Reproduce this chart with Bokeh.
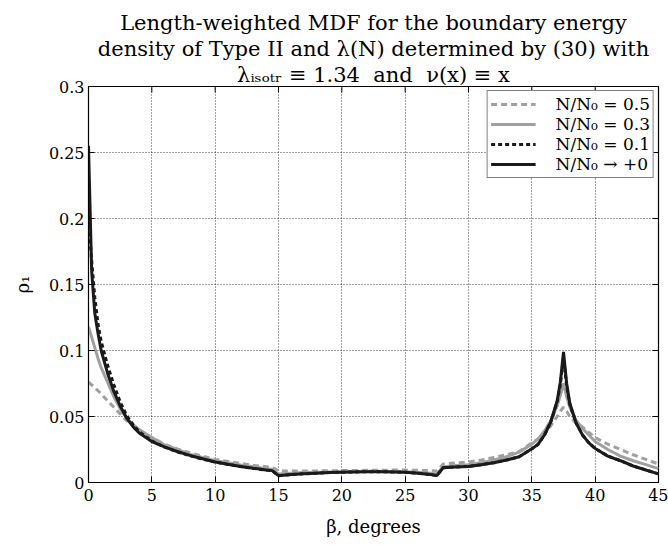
from bokeh.plotting import figure
from bokeh.models import Legend, LegendItem, Title, FixedTicker, Range1d
from bokeh.embed import file_html
from bokeh.resources import INLINE

# beta, degrees
beta = [0, 0.25, 0.5, 0.75, 1, 1.5, 2, 2.5, 3, 3.5, 4, 5, 6, 7, 8, 9, 10, 11, 12, 13, 14, 14.5,
        15, 16, 17, 18, 19, 20, 21, 22, 23, 24, 25, 26, 27, 27.5, 28, 29, 30, 31, 32, 33,
        34, 35, 35.5, 36, 36.5, 37, 37.25, 37.5, 37.75, 38, 38.5, 39, 39.5, 40, 41, 42,
        43, 44, 45]

rho_05 = [0.076, 0.074, 0.072, 0.0695, 0.067, 0.062, 0.057, 0.052, 0.047, 0.0435, 0.040, 0.034,
          0.029, 0.0255, 0.0225, 0.020, 0.0175, 0.016, 0.0145, 0.013, 0.012, 0.0115,
          0.0088, 0.0088, 0.0088, 0.0088, 0.0089, 0.009, 0.0091, 0.0092, 0.0093, 0.0094,
          0.0094, 0.0092, 0.009, 0.0088, 0.014, 0.0148, 0.0155, 0.017, 0.019, 0.021,
          0.0235, 0.030, 0.033, 0.037, 0.043, 0.050, 0.054, 0.057, 0.054, 0.050, 0.045,
          0.042, 0.038, 0.034, 0.029, 0.025, 0.021, 0.0175, 0.014]

rho_03 = [0.118, 0.110, 0.102, 0.094, 0.087, 0.076, 0.065, 0.056, 0.049, 0.044, 0.040, 0.034,
          0.0285, 0.025, 0.0215, 0.019, 0.0165, 0.015, 0.0133, 0.012, 0.0105, 0.010,
          0.0065, 0.007, 0.0075, 0.0078, 0.008, 0.0082, 0.0084, 0.0085, 0.0085, 0.0084,
          0.0082, 0.0078, 0.007, 0.0065, 0.012, 0.0128, 0.0135, 0.015, 0.017, 0.0195,
          0.023, 0.029, 0.033, 0.039, 0.047, 0.058, 0.066, 0.075, 0.065, 0.057, 0.047,
          0.041, 0.036, 0.031, 0.025, 0.020, 0.0165, 0.0135, 0.0105]

rho_01 = [0.200, 0.168, 0.140, 0.120, 0.107, 0.089, 0.074, 0.061, 0.051, 0.044, 0.0385, 0.0315,
          0.0268, 0.0232, 0.0203, 0.0178, 0.0154, 0.0137, 0.0121, 0.0107, 0.0094, 0.0089,
          0.0052, 0.006, 0.0066, 0.0071, 0.0075, 0.0078, 0.008, 0.0082, 0.0082, 0.008,
          0.0077, 0.007, 0.006, 0.0052, 0.0112, 0.0118, 0.0122, 0.0135, 0.015, 0.017,
          0.0195, 0.0255, 0.029, 0.036, 0.046, 0.061, 0.074, 0.095, 0.073, 0.059, 0.045,
          0.036, 0.030, 0.0258, 0.020, 0.0165, 0.0125, 0.0095, 0.0065]

rho_0 = [0.255, 0.160, 0.128, 0.113, 0.100, 0.083, 0.069, 0.058, 0.049, 0.0425, 0.0375, 0.031,
         0.027, 0.0235, 0.0205, 0.018, 0.0155, 0.0138, 0.0122, 0.0108, 0.0095, 0.009,
         0.0052, 0.006, 0.0066, 0.0071, 0.0075, 0.0078, 0.008, 0.0082, 0.0082, 0.008,
         0.0077, 0.007, 0.006, 0.0052, 0.0112, 0.0118, 0.0122, 0.0135, 0.015, 0.017,
         0.0195, 0.0255, 0.029, 0.036, 0.046, 0.062, 0.076, 0.099, 0.075, 0.060, 0.045,
         0.036, 0.030, 0.0258, 0.020, 0.0165, 0.0125, 0.0095, 0.0065]

x_ticks = [0, 5, 10, 15, 20, 25, 30, 35, 40, 45]
y_ticks = [0, 0.05, 0.1, 0.15, 0.2, 0.25, 0.3]
y_tick_labels = {0: "0", 0.05: "0.05", 0.1: "0.1", 0.15: "0.15", 0.2: "0.2", 0.25: "0.25", 0.3: "0.3"}

NB = "\u00a0"
title_lines = ["Length-weighted MDF for the boundary energy",
               "density of Type II and λ(N) determined by (30) with",
               "λᵢₛₒₜᵣ ≡ 1.34" + NB + NB + "and" + NB + NB + "ν(x) ≡ x"]

FONT = "DejaVu Serif"
GRAY = "#a0a0a0"
BLACK = "#1a1a1a"
X_MIN, X_MAX, Y_MIN, Y_MAX = 0, 45, 0, 0.3

p = figure(width=668, height=545, output_backend="svg", toolbar_location=None,
           x_range=Range1d(X_MIN, X_MAX), y_range=Range1d(Y_MIN, Y_MAX),
           min_border_left=88, min_border_right=10, min_border_top=86, min_border_bottom=63,
           background_fill_color="white", border_fill_color="white")
p.outline_line_color = "black"
p.outline_line_width = 1.2

for ax in (p.xaxis[0], p.yaxis[0]):
    ax.major_tick_in = 6
    ax.major_tick_out = 0
    ax.minor_tick_line_color = None
    ax.axis_line_color = "black"
    ax.major_label_text_font = FONT
    ax.major_label_text_font_size = "16px"
    ax.major_label_text_color = "black"
    ax.axis_label_text_font = FONT
    ax.axis_label_text_font_style = "normal"
    ax.axis_label_text_font_size = "18px"
    ax.axis_label_text_color = "black"

p.xaxis.ticker = FixedTicker(ticks=x_ticks)
p.yaxis.ticker = FixedTicker(ticks=y_ticks)
p.yaxis.major_label_overrides = y_tick_labels
p.xaxis.axis_label = "β, degrees"
p.yaxis.axis_label = "ρ₁"
p.xaxis.major_label_standoff = 6
p.xaxis.axis_label_standoff = 12
p.yaxis.major_label_standoff = 4
p.yaxis.axis_label_standoff = 13

p.xgrid.ticker = FixedTicker(ticks=x_ticks)
p.ygrid.ticker = FixedTicker(ticks=y_ticks)
p.grid.grid_line_color = "black"
p.grid.grid_line_alpha = 0.75
p.grid.grid_line_dash = "1 2"
p.grid.grid_line_width = 1

# box-style inward ticks on the right and top edges
tick_dx = (X_MAX - X_MIN) * 6 / 570
tick_dy = (Y_MAX - Y_MIN) * 6 / 396
p.segment(x0=[X_MAX] * len(y_ticks), y0=y_ticks, x1=[X_MAX - tick_dx] * len(y_ticks), y1=y_ticks,
          line_color="black", line_width=1)
p.segment(x0=x_ticks, y0=[Y_MAX] * len(x_ticks), x1=x_ticks, y1=[Y_MAX - tick_dy] * len(x_ticks),
          line_color="black", line_width=1)

r05 = p.line(beta, rho_05, line_color=GRAY, line_width=3, line_dash="6 4")
r03 = p.line(beta, rho_03, line_color=GRAY, line_width=3)
r01 = p.line(beta, rho_01, line_color=BLACK, line_width=3, line_dash="4 3")
r0 = p.line(beta, rho_0, line_color=BLACK, line_width=3)

legend = Legend(items=[
    LegendItem(label="N/N₀ = 0.5", renderers=[r05]),
    LegendItem(label="N/N₀ = 0.3", renderers=[r03]),
    LegendItem(label="N/N₀ = 0.1", renderers=[r01]),
    LegendItem(label="N/N₀ → +0", renderers=[r0]),
], location="top_right")
legend.border_line_color = "black"
legend.border_line_width = 1
legend.background_fill_color = "white"
legend.background_fill_alpha = 1
legend.label_text_font = FONT
legend.label_text_font_size = "17px"
legend.label_text_color = "black"
legend.glyph_width = 45
legend.glyph_height = 14
legend.label_height = 14
legend.spacing = 0
legend.padding = 3
legend.margin = 4
legend.label_standoff = 20
legend.label_text_line_height = 1.0
p.add_layout(legend)

p.title = None
for txt in reversed(title_lines):
    p.add_layout(Title(text=txt, align="center", text_font=FONT, text_font_size="21px",
                       text_font_style="normal", text_color="black", standoff=0, offset=0),
                 "above")

open("out.html", "w").write(file_html(p, INLINE))
